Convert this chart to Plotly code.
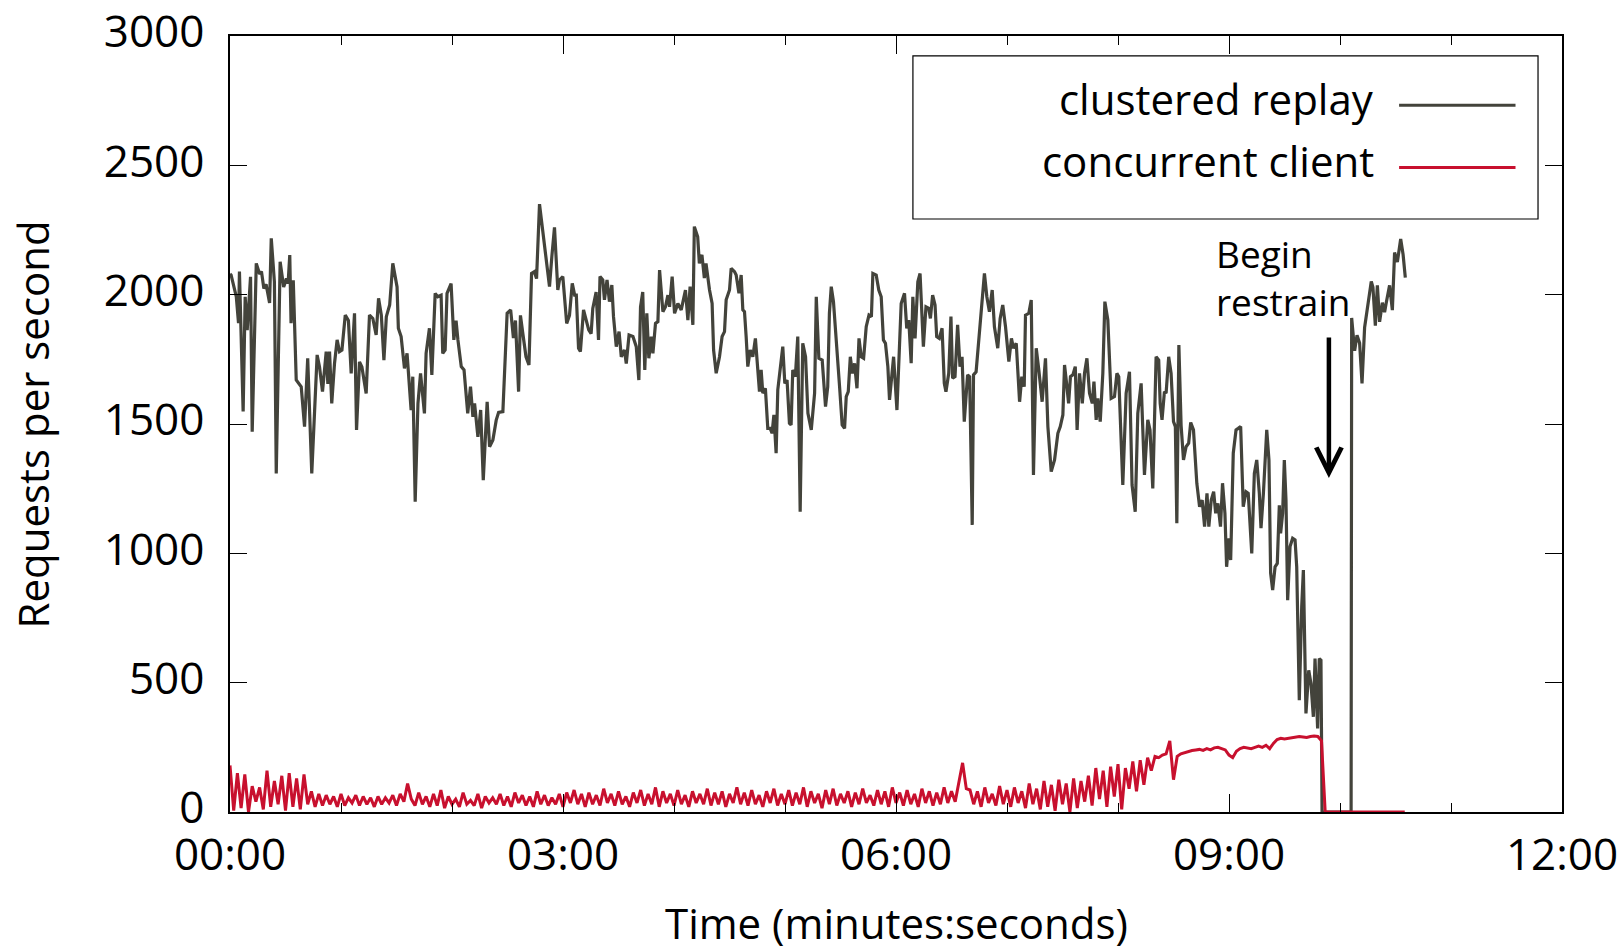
import plotly.graph_objects as go

# ---------------- data ----------------
# clustered replay: (seconds, requests/s)
replay_t = [0, 0.6, 3.4, 4.6, 5.1, 7.1, 8.2, 9.3, 11.1, 12.0, 14.2, 16.0, 17.0, 18.3, 19.5, 21.4, 22.3, 24.0, 25.0, 27.1,
            29.0, 30.5, 31.4, 32.3, 33.0, 34.2, 35.8, 38.5, 40.3, 42.0, 44.2, 47.1, 48.4, 50.0, 52.0, 52.9, 53.8, 55.0, 56.5, 57.9,
            59.2, 60.5, 62.3, 64.0, 65.5, 67.3, 68.4, 70.0, 71.3, 73.6, 75.4, 77.2, 79.0, 80.3, 81.8, 83.2, 84.5, 86.3, 88.0, 90.3,
            91.0, 92.5, 94.3, 95.7, 97.9, 98.8, 100.1, 101.6, 103.0, 105.1, 106.0, 107.8, 109.1, 110.9, 112.3, 114.1, 115.0, 116.3, 117.3, 119.5,
            121.0, 122.2, 123.2, 125.0, 126.5, 128.5, 130.0, 131.3, 132.2, 134.0, 135.5, 136.9, 139.0, 140.3, 142.1, 143.9, 145.2, 147.5, 149.8, 151.7,
            153.2, 154.3, 156.0, 157.0, 158.4, 160.0, 161.6, 163.0, 164.5, 165.7, 167.3, 169.1, 171.0, 172.7, 174.0, 175.4, 177.2, 178.1, 179.9, 182.0,
            183.5, 185.0, 186.3, 187.2, 188.4, 189.4, 191.1, 192.5, 193.9, 195.2, 196.1, 197.9, 199.2, 200.0, 201.5, 202.4, 203.8, 205.1, 206.4, 207.3,
            208.8, 210.3, 211.5, 213.2, 214.2, 215.7, 217.8, 219.6, 221.0, 221.9, 223.1, 224.2, 225.3, 226.4, 227.7, 228.6, 230.0, 231.3, 232.2, 234.0,
            235.4, 236.7, 237.6, 239.0, 240.3, 242.1, 243.9, 246.2, 247.5, 248.7, 250.2, 251.0, 252.8, 253.7, 255.1, 256.4, 257.3, 259.2, 260.6, 261.4,
            262.8, 264.6, 266.0, 267.3, 268.2, 270.0, 270.9, 272.7, 273.6, 275.1, 276.3, 277.2, 278.1, 279.0, 279.9, 281.2, 282.6, 284.0, 285.3, 286.2,
            287.1, 288.0, 289.4, 290.7, 292.0, 293.0, 294.0, 295.2, 296.1, 297.0, 298.8, 299.9, 301.1, 302.4, 303.3, 304.2, 305.6, 306.9, 308.2, 309.6,
            311.1, 312.4, 314.2, 316.0, 316.9, 318.3, 320.1, 321.9, 323.1, 324.0, 325.0, 326.2, 327.7, 329.5, 330.9, 332.2, 333.1, 334.2, 335.3, 336.4,
            337.6, 338.9, 340.0, 341.2, 342.5, 343.9, 345.4, 346.7, 347.5, 349.3, 350.7, 352.0, 353.2, 354.3, 355.6, 356.5, 358.7, 360.5, 362.8, 364.6,
            365.8, 366.9, 368.2, 369.1, 370.3, 371.8, 373.0, 374.8, 376.2, 377.7, 378.6, 379.8, 381.1, 382.0, 383.4, 384.9, 386.1, 387.0, 388.5, 389.7,
            390.6, 391.9, 393.3, 394.6, 395.7, 396.9, 398.7, 399.8, 401.2, 401.9, 403.3, 404.8, 406.6, 407.8, 409.1, 410.5, 412.0, 413.2, 415.0, 416.3,
            417.7, 419.2, 421.0, 422.4, 423.5, 425.0, 426.8, 428.0, 429.3, 430.0, 431.8, 433.1, 434.3, 435.8, 437.2, 439.0, 440.8, 442.1, 443.9, 445.7,
            447.5, 448.8, 450.2, 451.1, 452.0, 453.3, 454.3, 455.6, 456.9, 457.9, 459.2, 460.7, 461.9, 463.2, 464.6, 466.1, 467.0, 468.2, 469.1, 470.4,
            471.8, 472.9, 474.5, 476.3, 478.1, 479.4, 480.4, 482.6, 484.4, 486.2, 487.6, 489.3, 490.7, 492.5, 494.3, 496.1, 497.3, 498.8, 500.6, 502.0,
            502.8, 503.8, 505.1, 506.0, 507.4, 508.7, 510.0, 511.0, 511.8, 512.9, 514.1, 515.4, 516.8, 518.2, 519.3, 520.8, 522.6, 524.1, 525.5, 526.8,
            528.1, 529.1, 530.4, 531.7, 532.8, 534.0, 535.4, 536.5, 537.8, 538.7, 540.0, 540.9, 542.3, 543.8, 545.0, 546.3, 547.7, 549.2, 550.4, 551.4,
            552.3, 553.7, 555.0, 556.4, 557.3, 558.6, 560.4, 561.6, 562.5, 563.6, 564.9, 566.1, 567.2, 567.9, 569.0, 569.9, 570.8, 571.7, 573.0, 574.4,
            575.7, 576.6, 578.0, 579.3, 580.2, 581.6, 583.1, 584.3, 585.6, 586.5, 587.9, 588.8, 589.7, 590.3, 606.0, 606.3, 607.9, 609.2, 610.6, 611.9,
            613.3, 615.1, 616.9, 617.8, 619.1, 620.2, 621.4, 622.9, 624.1, 625.0, 626.8, 628.3, 629.5, 631.0, 632.8, 634.1, 635.3]
replay_v = [2080, 2076, 1992, 1890, 2089, 1548, 1992, 1863, 2069, 1470, 2121, 2080, 2090, 2024, 2040, 1968, 2218, 2050, 1309, 2127,
            2030, 2062, 2043, 2153, 1890, 2056, 1670, 1644, 1490, 1754, 1309, 1767, 1720, 1625, 1780, 1655, 1780, 1580, 1735, 1825,
            1780, 1786, 1921, 1900, 1696, 1928, 1477, 1740, 1720, 1618, 1921, 1908, 1844, 1986, 1921, 1747, 1915, 1960, 2121, 2030,
            1870, 1838, 1715, 1773, 1554, 1683, 1200, 1580, 1696, 1541, 1773, 1870, 1690, 2005, 1992, 1998, 1773, 1786, 2005, 2043,
            1825, 1900, 1825, 1722, 1709, 1541, 1644, 1528, 1580, 1450, 1554, 1283, 1586, 1412, 1438, 1515, 1545, 1548, 1928, 1941,
            1832, 1900, 1625, 1920, 1844, 1760, 1728, 2082, 2089, 2062, 2350, 2237, 2120, 2031, 2150, 2260, 2018, 2057, 2070, 1889,
            1920, 2044, 1998, 1998, 1793, 1780, 1941, 1902, 1864, 1849, 1947, 2010, 1825, 2070, 2057, 1980, 2057, 1973, 2037, 1915,
            1799, 1857, 1760, 1786, 1734, 1844, 1838, 1799, 1670, 1953, 2010, 1709, 1928, 1754, 1838, 1773, 1889, 1896, 2095, 1934,
            1953, 1998, 1953, 2070, 1928, 1966, 1941, 2018, 1902, 2031, 1883, 2263, 2224, 2121, 2154, 2064, 2121, 2018, 1966, 1786,
            1696, 1760, 1838, 1857, 1980, 2018, 2102, 2089, 2076, 2005, 2076, 1941, 1934, 1838, 1722, 1786, 1760, 1831, 1709, 1625,
            1709, 1619, 1638, 1483, 1483, 1464, 1535, 1387, 1632, 1690, 1799, 1657, 1670, 1503, 1496, 1709, 1683, 1838, 1161, 1812,
            1760, 1541, 1477, 1619, 1992, 1754, 1747, 1567, 1644, 1928, 2031, 1973, 1838, 1644, 1496, 1483, 1606, 1625, 1760, 1696,
            1734, 1638, 1831, 1760, 1754, 1876, 1921, 1915, 2082, 2076, 2018, 1992, 1825, 1812, 1722, 1593, 1760, 1554, 1966, 2005,
            1870, 1902, 1735, 1992, 1831, 2050, 2082, 1799, 1953, 1947, 1908, 1998, 1960, 1838, 1831, 1870, 1657, 1625, 1696, 1915,
            1677, 1683, 1883, 1722, 1760, 1509, 1690, 1683, 1110, 1690, 1702, 1825, 1992, 2082, 1992, 1934, 2018, 1876, 1793, 1908,
            1960, 1876, 1741, 1831, 1793, 1812, 1586, 1683, 1644, 1921, 1928, 1979, 1303, 1793, 1709, 1586, 1754, 1490, 1316, 1361,
            1464, 1490, 1535, 1728, 1670, 1580, 1683, 1690, 1722, 1477, 1696, 1580, 1696, 1754, 1619, 1580, 1664, 1516, 1599, 1509,
            1696, 1973, 1902, 1599, 1606, 1696, 1683, 1264, 1619, 1702, 1264, 1161, 1541, 1657, 1303, 1516, 1477, 1251, 1760, 1747,
            1580, 1516, 1625, 1619, 1760, 1696, 1509, 1490, 1116, 1805, 1496, 1361, 1412, 1426, 1506, 1477, 1271, 1180, 1206, 1103,
            1232, 1103, 1206, 1238, 1155, 1193, 1103, 1271, 1155, 948, 1058, 974, 1387, 1477, 1483, 1490, 1180, 1238, 1232, 1103,
            1000, 1309, 1361, 1232, 1097, 1232, 1477, 1361, 923, 858, 948, 961, 1186, 1077, 1155, 1361, 1206, 819, 1026, 1058,
            1052, 948, 432, 793, 935, 381, 548, 497, 368, 593, 323, 593, 587, 0, 0, 1910, 1783, 1843, 1813, 1657,
            1873, 1962, 2051, 2029, 1880, 2036, 1895, 1969, 1932, 1969, 2036, 1940, 2163, 2126, 2215, 2155, 2066]

# concurrent client: one value every 2 s from 00:00 to 09:50, then idle at 0
client_step = 2
client_v = [180, 5, 150, 15, 145, 0, 100, 40, 95, 10, 160, 20, 120, 30, 140, 5, 150, 20, 130, 10, 145, 30,
            80, 20, 70, 25, 65, 30, 60, 20, 70, 25, 55, 35, 65, 25, 60, 30, 55, 20, 60, 30, 55, 35, 65, 25, 70, 40, 110,
            50, 25, 75, 30, 60, 20, 70, 25, 85, 15, 60, 30, 50, 20, 75, 30, 45, 25, 70, 15, 60, 35, 55, 30, 70, 25,
            60, 20, 75, 35, 65, 25, 60, 20, 80, 30, 65, 25, 55, 30, 70, 20,
            75, 35, 85, 30, 70, 20, 75, 30, 65, 25, 90, 35, 70, 25, 80, 30, 60, 20, 75, 35, 85, 25, 70, 30, 95, 20, 80, 35, 70, 25,
            85, 30, 65, 20, 80, 35, 70, 30, 90, 25, 75, 30, 80, 20, 70, 35, 95, 30, 75, 25, 85, 30, 65, 20, 80, 35, 90, 25, 70, 30,
            85, 25, 75, 30, 95, 20, 80, 35, 70, 15, 85, 30, 90, 25, 70, 35, 80, 20, 75, 30, 90, 35, 65, 25, 85, 30, 80, 20, 95, 35,
            75, 25, 85, 30, 70, 20, 90, 35, 80, 25, 75, 30, 95, 35, 80, 40, 110,
            190, 90,
            85, 30, 80, 20, 95, 35, 70, 25, 100, 30, 85, 20, 95, 35, 80, 15, 110, 30, 90, 10, 120, 20, 105, 5, 125, 30, 110, 0, 130, 15,
            120, 40, 140, 25, 170, 50, 160, 20, 175, 60, 185, 10, 170, 90, 195, 80,
            200, 105, 210, 160, 215, 210, 220, 225,
            275, 125, 215, 225, 230, 235, 238, 240, 242, 238, 245, 240, 248, 250, 245, 240, 220, 210, 235, 245,
            250, 248, 245, 250, 255, 250, 258, 245, 265, 280, 285, 282, 285, 288, 290, 292, 290, 288, 292, 294, 292, 275]
client_idle_t = [592, 635]
client_idle_v = [0, 0]

x_tick_vals = [0, 180, 360, 540, 720]
x_tick_text = ["00:00", "03:00", "06:00", "09:00", "12:00"]
y_tick_vals = [0, 500, 1000, 1500, 2000, 2500, 3000]

series_names = ["clustered replay", "concurrent client"]
GRAY = "#43433b"
RED = "#c8102e"
FONT = "Open Sans"

client_t = [i * client_step for i in range(len(client_v))] + client_idle_t
client_all = client_v + client_idle_v

fig = go.Figure()
fig.add_trace(go.Scatter(x=replay_t, y=replay_v, mode="lines", name=series_names[0],
                         line=dict(color=GRAY, width=3.2), showlegend=False))
fig.add_trace(go.Scatter(x=client_t, y=client_all, mode="lines", name=series_names[1],
                         line=dict(color=RED, width=3.0), showlegend=False))

axis_common = dict(showline=True, linecolor="black", linewidth=1.5, mirror="ticks",
                   ticks="inside", tickcolor="black", tickwidth=1.2,
                   showgrid=False, zeroline=False, automargin=False,
                   ticklabeloverflow="allow",
                   tickfont=dict(family=FONT, size=44, color="black"))

fig.update_xaxes(range=[0, 720], tickmode="array", tickvals=x_tick_vals, ticktext=x_tick_text,
                 ticklen=18, ticklabelstandoff=3,
                 minor=dict(dtick=60, tick0=0, ticks="inside", ticklen=9, tickcolor="black", tickwidth=1.2),
                 **axis_common)
fig.update_yaxes(range=[0, 3000], tickmode="array", tickvals=y_tick_vals,
                 ticklen=17, ticklabelstandoff=15, ticklabelshift=-4, **axis_common)

annotations = [
    dict(text="Time (minutes:seconds)", x=0.5, y=-0.142, xref="paper", yref="paper",
         xanchor="center", yanchor="middle", showarrow=False,
         font=dict(family=FONT, size=42, color="black")),
    dict(text="Requests per second", x=-0.1483, y=0.5, xref="paper", yref="paper",
         xanchor="center", yanchor="middle", textangle=-90, showarrow=False,
         font=dict(family=FONT, size=42, color="black")),
    # legend labels
    dict(text=series_names[0], x=0.860, y=0.920, xref="paper", yref="paper",
         xanchor="right", yanchor="middle", showarrow=False,
         font=dict(family=FONT, size=42, color="black")),
    dict(text=series_names[1], x=0.860, y=0.840, xref="paper", yref="paper",
         xanchor="right", yanchor="middle", showarrow=False,
         font=dict(family=FONT, size=42, color="black")),
    # restrain note
    dict(text="Begin<br>restrain", x=0.739, y=0.689, xref="paper", yref="paper",
         xanchor="left", yanchor="middle", align="left", showarrow=False,
         font=dict(family=FONT, size=37, color="black")),
    dict(text="", x=594, y=1291, ax=594, ay=1840, xref="x", yref="y", axref="x", ayref="y",
         showarrow=True, arrowhead=5, arrowsize=1.1, arrowwidth=4.5, arrowcolor="black"),
]

shapes = [
    dict(type="rect", xref="paper", yref="paper", x0=0.5127, x1=0.982, y0=0.7642, y1=0.9745,
         line=dict(color="black", width=1.2), fillcolor="white", layer="below"),
    dict(type="line", xref="paper", yref="paper", x0=0.8777, x1=0.9651, y0=0.9106, y1=0.9106,
         line=dict(color=GRAY, width=3)),
    dict(type="line", xref="paper", yref="paper", x0=0.8777, x1=0.9651, y0=0.8307, y1=0.8307,
         line=dict(color=RED, width=3)),
]

fig.update_layout(width=1620, height=947, autosize=False,
                  margin=dict(l=230, r=58, t=36, b=135),
                  paper_bgcolor="white", plot_bgcolor="white",
                  font=dict(family=FONT, size=42, color="black"),
                  annotations=annotations, shapes=shapes, showlegend=False)

# remove the default page margin so the 1620x947 figure fills the window exactly
fig.write_html("out.html", config={"displayModeBar": False},
               post_script="document.body.style.margin='0';")
